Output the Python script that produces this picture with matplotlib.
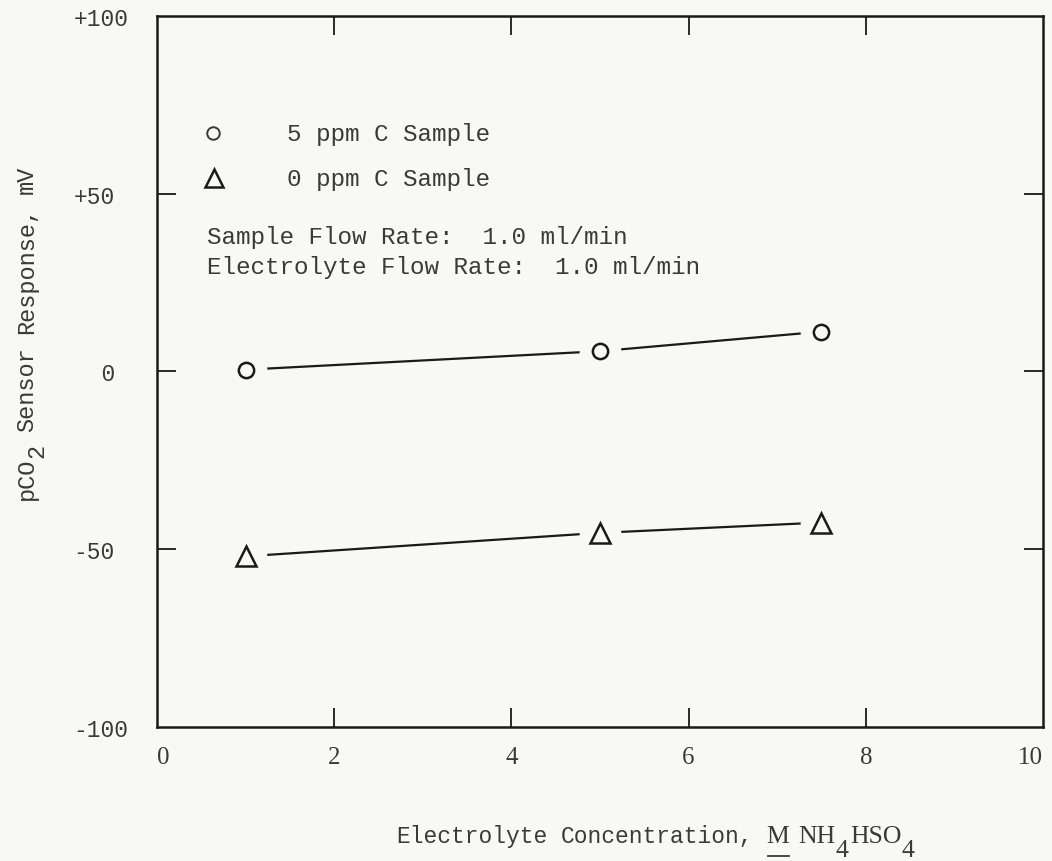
import matplotlib
matplotlib.use("Agg")
import matplotlib.pyplot as plt
from matplotlib.lines import Line2D
from matplotlib.transforms import IdentityTransform

# Electrolyte concentration (M NH4HSO4) and sensor response (mV)
concentration = [1.0, 5.0, 7.5]
response_5ppm = [0.5, 5.7, 11.2]
response_0ppm = [-52.0, -45.4, -42.5]

x_ticks = [0, 2, 4, 6, 8, 10]
y_ticks = [-100, -50, 0, 50, 100]
y_tick_labels = ["-100", "-50", "  0", "+50", "+100"]

ink = "#1a1a1a"
text_col = "#3a3a3a"
paper = "#f8f8f6"

fig = plt.figure(figsize=(10.52, 8.62), dpi=100, facecolor=paper)
ax = fig.add_axes([0.1492, 0.1555, 0.8422, 0.8248])
ax.set_facecolor(paper)

ax.set_xlim(0, 10)
ax.set_ylim(-100, 100)

for s in ax.spines.values():
    s.set_linewidth(1.8)
    s.set_color(ink)

# inward ticks on all four sides, only at interior positions
ax.set_xticks(x_ticks)
ax.set_yticks(y_ticks)
xlabels = ax.set_xticklabels([str(v) for v in x_ticks], family="Liberation Serif",
                             fontsize=18, color=text_col)
xlabels[0].set_ha("left")
xlabels[-1].set_ha("right")
ax.set_yticklabels(y_tick_labels, family="Liberation Mono",
                   fontsize=16.5, color=text_col, ha="left")
ax.tick_params(axis="both", direction="in", length=14, width=1.3,
               color=ink, top=True, right=True)
ax.tick_params(axis="x", pad=14)
ax.tick_params(axis="y", pad=60)
for tick in (ax.xaxis.get_major_ticks()[0], ax.xaxis.get_major_ticks()[-1],
             ax.yaxis.get_major_ticks()[0], ax.yaxis.get_major_ticks()[-1]):
    tick.tick1line.set_visible(False)
    tick.tick2line.set_visible(False)

# connecting lines, with a paper-coloured halo around each marker to leave gaps
for ys, mk, ms in ((response_5ppm, "o", 11), (response_0ppm, "^", 14)):
    ax.plot(concentration, ys, color=ink, lw=1.6, zorder=2)
    ax.plot(concentration, ys, linestyle="none", marker="o", ms=30,
            mfc=paper, mec="none", zorder=3)
    ax.plot(concentration, ys, linestyle="none", marker=mk, ms=ms,
            mfc="none", mec=ink, mew=1.8, zorder=4)

# key
ax.plot([0.63], [67], linestyle="none", marker="o", ms=9, mfc="none",
        mec=text_col, mew=1.4, clip_on=False)
ax.plot([0.64], [54.4], linestyle="none", marker="^", ms=13, mfc="none",
        mec=ink, mew=1.8, clip_on=False)
mono = dict(family="Liberation Mono", fontsize=17.5, color=text_col,
            va="center", ha="left")
ax.text(1.47, 67, "5 ppm C Sample", **mono)
ax.text(1.47, 54.4, "0 ppm C Sample", **mono)
ax.text(0.56, 38, "Sample Flow Rate:  1.0 ml/min", **mono)
ax.text(0.56, 29.5, "Electrolyte Flow Rate:  1.0 ml/min", **mono)


def text_run(x, y, pieces, rotation=0):
    """Typeset pieces one after another from a pixel origin on the baseline.
    Each piece is (string, font kwargs, baseline drop in px, gap after in px)."""
    renderer = fig.canvas.get_renderer()
    pos = 0.0
    placed = []
    for s, kw, drop, gap in pieces:
        if rotation == 0:
            px, py = x + pos, y - drop
        else:
            px, py = x + drop, y + pos
        t = fig.text(px, py, s, transform=IdentityTransform(),
                     rotation=rotation, rotation_mode="anchor",
                     ha="left", va="baseline", **kw)
        bb = t.get_window_extent(renderer)
        pos += (bb.width if rotation == 0 else bb.height) + gap
        placed.append(t)
    return placed


H = fig.bbox.height
ylab_font = dict(family="Liberation Mono", fontsize=17, color=text_col)
text_run(33, H - 500, [
    ("pCO", ylab_font, 0, 0),
    ("2", ylab_font, 10, 12),
    ("Sensor", ylab_font, 0, 13),
    ("Response,", ylab_font, 0, 13),
    ("mV", ylab_font, 0, 0),
], rotation=90)

xlab_font = dict(family="Liberation Mono", fontsize=16.5, color=text_col)
chem_font = dict(family="Liberation Serif", fontsize=18.5, color=text_col)
pieces = text_run(396, H - 843, [
    ("Electrolyte", xlab_font, 0, 13),
    ("Concentration,", xlab_font, 0, 14),
    ("M", chem_font, 0, 9),
    ("NH", chem_font, 0, 0),
    ("4", chem_font, 14, 2),
    ("HSO", chem_font, 0, 0),
    ("4", chem_font, 14, 0),
])
mb = pieces[2].get_window_extent(fig.canvas.get_renderer())
fig.add_artist(Line2D([mb.x0 + 1, mb.x1 - 1], [H - 857, H - 857],
                      transform=IdentityTransform(), color=text_col, lw=1.3))

fig.savefig("out.png", dpi=100, facecolor=paper)
